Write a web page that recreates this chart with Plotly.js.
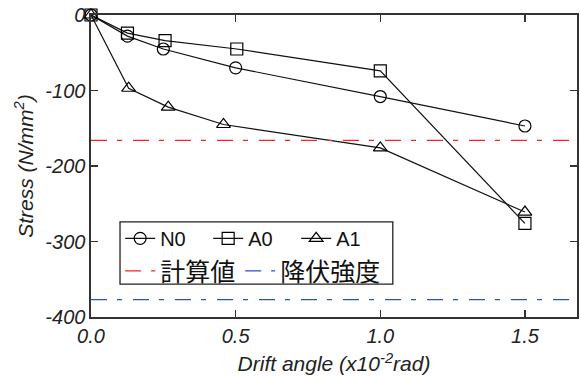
<!DOCTYPE html>
<html>
<head>
<meta charset="utf-8">
<script src="https://cdn.plot.ly/plotly-3.0.1.min.js"></script>
<style>html,body{margin:0;padding:0;background:#fff;}#chart{width:580px;height:378px;}</style>
</head>
<body>
<div id="chart"></div>
<script>
// Data
const driftN0 = [0, 0.126, 0.25, 0.5, 1.0, 1.5];
const stressN0 = [0, -28, -45, -70, -108, -147];
const driftA0 = [0, 0.126, 0.256, 0.504, 1.0, 1.5];
const stressA0 = [0, -24, -34, -45, -74, -276];
const driftA1 = [0, 0.13, 0.267, 0.458, 1.0, 1.5];
const stressA1 = [0, -97, -122, -145, -176, -261];
const calcValue = -166;     // 計算値
const yieldStrength = -377; // 降伏強度
const refLineX = [0, 1.67];
const xTickVals = [0, 0.5, 1.0, 1.5];
const xTickText = ['0.0', '0.5', '1.0', '1.5'];
const yTickVals = [0, -100, -200, -300, -400];
const yTickText = ['0', '-100', '-200', '-300', '-400'];
const seriesNames = ['N0', 'A0', 'A1', '計算値', '降伏強度'];

const FONT = 'Liberation Sans, Arial, Noto Sans CJK JP, sans-serif';
const CJK = 'Noto Sans CJK JP, Liberation Sans, sans-serif';
const mk = (sym) => ({symbol: sym, size: 12, color: 'black', line: {color: 'black', width: 1.2}});
const DASH = '16px,10px,5px,11px';

const traces = [
  {x: driftN0, y: stressN0, name: seriesNames[0], mode: 'lines+markers', line: {color: '#111', width: 1.2}, marker: mk('circle-open'), legend: 'legend', cliponaxis: false},
  {x: driftA0, y: stressA0, name: seriesNames[1], mode: 'lines+markers', line: {color: '#111', width: 1.2}, marker: mk('square-open'), legend: 'legend', cliponaxis: false},
  {x: driftA1, y: stressA1, name: seriesNames[2], mode: 'lines+markers', line: {color: '#111', width: 1.2}, marker: mk('triangle-up-open'), legend: 'legend', cliponaxis: false},
  {x: refLineX, y: refLineX.map(() => calcValue), name: seriesNames[3], mode: 'lines', line: {color: '#ff2020', width: 1.3, dash: DASH}, legend: 'legend2'},
  {x: refLineX, y: refLineX.map(() => yieldStrength), name: seriesNames[4], mode: 'lines', line: {color: '#3050c0', width: 1.3, dash: DASH}, legend: 'legend2'}
];

const axisFont = {family: FONT, size: 20, style: 'italic', color: '#222'};
const titleFont = {family: FONT, size: 21, style: 'italic', color: '#222'};

const layout = {
  width: 580, height: 378,
  margin: {l: 91, r: 3, t: 15, b: 61},
  paper_bgcolor: 'white', plot_bgcolor: 'white',
  font: {family: FONT, color: '#222', size: 17},
  showlegend: true,
  xaxis: {
    range: [0, 1.68], tickvals: xTickVals, ticktext: xTickText,
    ticks: 'inside', ticklen: 7, tickwidth: 1.3, tickcolor: '#333',
    showline: true, linecolor: '#333', linewidth: 1.6, mirror: 'ticks',
    showgrid: false, zeroline: false,
    tickfont: axisFont,
    title: {text: 'Drift angle (x10<sup>-2</sup>rad)', font: titleFont, standoff: 11}
  },
  yaxis: {
    range: [-400, 0], tickvals: yTickVals, ticktext: yTickText,
    ticks: 'inside', ticklen: 7, tickwidth: 1.3, tickcolor: '#333',
    showline: true, linecolor: '#333', linewidth: 1.6, mirror: 'ticks',
    showgrid: false, zeroline: false,
    tickfont: axisFont,
    title: {text: 'Stress (N/mm<sup>2</sup>)', font: titleFont, standoff: 6}
  },
  legend: {
    x: 0.06, y: 0.325, xanchor: 'left', yanchor: 'top', orientation: 'h',
    bgcolor: 'rgba(0,0,0,0)', borderwidth: 0,
    font: {family: FONT, size: 20, color: '#111'}, itemwidth: 30, entrywidth: 43
  },
  legend2: {
    x: 0.06, y: 0.228, xanchor: 'left', yanchor: 'top', orientation: 'h',
    bgcolor: 'rgba(0,0,0,0)', borderwidth: 0,
    font: {family: CJK, size: 25, color: '#111'}, itemwidth: 30
  },
  shapes: [{
    type: 'rect', xref: 'paper', yref: 'paper',
    x0: 0.0597, x1: 0.621, y0: 0.109, y1: 0.315,
    line: {color: '#222', width: 1.3}, fillcolor: 'rgba(0,0,0,0)', layer: 'above'
  }]
};

Plotly.newPlot('chart', traces, layout, {displayModeBar: false, staticPlot: true});
</script>
</body>
</html>
